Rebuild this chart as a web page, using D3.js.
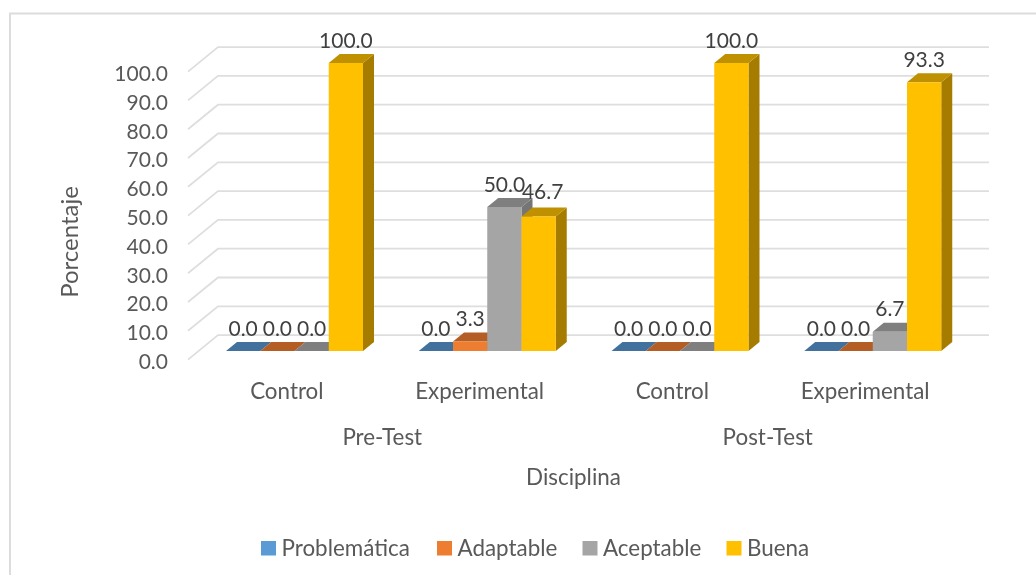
<!DOCTYPE html>
<html>
<head>
<meta charset="utf-8">
<script src="https://cdn.jsdelivr.net/npm/d3@7"></script>
<style>
	html, body { margin: 0; padding: 0; background: #fff; }
	svg { display: block; filter: blur(0.4px); }
	text { font-family: Lato, "Open Sans", sans-serif; }
</style>
</head>
<body>
<svg id="chart" width="1036" height="575"></svg>
<script>
const phases = ['Pre-Test', 'Post-Test']
const groups = ['Control', 'Experimental', 'Control', 'Experimental']
const seriesNames = ['Problemática', 'Adaptable', 'Aceptable', 'Buena']
const problematica = [0, 0, 0, 0]
const adaptable = [0, 3.3, 0, 0]
const aceptable = [0, 50, 0, 6.7]
const buena = [100, 46.7, 100, 93.3]
const seriesValues = [problematica, adaptable, aceptable, buena]
const yTicks = [0, 10, 20, 30, 40, 50, 60, 70, 80, 90, 100]

const frontColors = ['#5b9bd5', '#ed7d31', '#a5a5a5', '#ffc000']
const topColors = ['#41719c', '#b45d24', '#7f7f7f', '#bf9000']
const sideColors = ['#3b6a92', '#a65620', '#757575', '#a67c00']

const svg = d3.select('#chart')
const textColor = '#595959'
const fontSize = 22.4
const numberSize = 21

// chart frame, open on the right and at the bottom
svg.append('path')
	.attr('d', 'M 10 576 L 10 13.5 L 1037 13.5')
	.attr('fill', 'none')
	.attr('stroke', '#dcdcdc')
	.attr('stroke-width', 2)

// front plane of the 3d box
const x0 = d3.scaleBand().domain(d3.range(groups.length)).range([188, 959])
const y = d3.scaleLinear().domain([0, 100]).range([351, 63])
const xBar = d3.scaleBand().domain(d3.range(seriesNames.length)).range([0, 137])

const barStart = i => x0(i) + 38
const wall = { dx: 30, dy: -24.5 }
const floorOffset = 8.6 // front edge of floor sits below the bars
const depth = { dx: 11, dy: -9 }

// gridlines: diagonal on side wall + horizontal on back wall
const grid = svg.append('g')
yTicks.forEach(t => {
	const yFront = y(t) + floorOffset
	const yBack = yFront + wall.dy
	grid.append('path')
		.attr('d', `M 188 ${yFront} L 218 ${yBack} L 989 ${yBack}`)
		.attr('fill', 'none')
		.attr('stroke', '#dedede')
		.attr('stroke-width', 1.8)
})

// y tick labels
svg.append('g').selectAll('text')
	.data(yTicks)
	.join('text')
	.attr('x', 168)
	.attr('y', d => y(d) + 18)
	.attr('text-anchor', 'end')
	.attr('font-size', numberSize)
	.attr('fill', textColor)
	.text(d => d.toFixed(1))

// bars, left to right so that the right hand ones cover side faces
groups.forEach((g, i) => {
	const barG = svg.append('g')
	seriesValues.forEach((vals, s) => {
		const v = vals[i]
		const left = barStart(i) + xBar(s)
		const w = xBar.bandwidth()
		const top = y(v)
		const base = y(0)
		// side
		barG.append('path')
			.attr('d', `M ${left + w} ${top} L ${left + w + depth.dx} ${top + depth.dy} L ${left + w + depth.dx} ${base + depth.dy} L ${left + w} ${base} Z`)
			.attr('fill', sideColors[s])
		// top
		barG.append('path')
			.attr('d', `M ${left} ${top} L ${left + depth.dx} ${top + depth.dy} L ${left + w + depth.dx} ${top + depth.dy} L ${left + w} ${top} Z`)
			.attr('fill', topColors[s])
		// front
		barG.append('rect')
			.attr('x', left)
			.attr('y', top)
			.attr('width', w)
			.attr('height', base - top)
			.attr('fill', frontColors[s])
	})
	seriesValues.forEach((vals, s) => {
		const v = vals[i]
		// the 46.7 label was pushed aside in the original so it clears 50.0
		const nudged = i === 1 && s === 3
		svg.append('text')
			.attr('x', barStart(i) + xBar(s) + xBar.bandwidth() / 2 + (nudged ? 4 : 0))
			.attr('y', y(v) - (nudged ? 17.5 : 15.5))
			.attr('text-anchor', 'middle')
			.attr('font-size', numberSize)
			.attr('fill', '#404040')
			.text(v.toFixed(1))
	})
})

// category labels
svg.append('g').selectAll('text')
	.data(groups)
	.join('text')
	.attr('x', (d, i) => x0(i) + x0.bandwidth() / 2 + 2.5)
	.attr('y', 399)
	.attr('text-anchor', 'middle')
	.attr('font-size', fontSize)
	.attr('fill', textColor)
	.text(d => d)

svg.append('g').selectAll('text')
	.data(phases)
	.join('text')
	.attr('x', (d, i) => x0(i * 2) + x0.bandwidth() + 1.5)
	.attr('y', 445)
	.attr('text-anchor', 'middle')
	.attr('font-size', fontSize)
	.attr('fill', textColor)
	.text(d => d)

svg.append('text')
	.attr('x', 573.5)
	.attr('y', 485)
	.attr('text-anchor', 'middle')
	.attr('font-size', fontSize)
	.attr('fill', textColor)
	.text('Disciplina')

svg.append('text')
	.attr('transform', 'translate(78,242) rotate(-90)')
	.attr('text-anchor', 'middle')
	.attr('font-size', 24)
	.attr('fill', textColor)
	.text('Porcentaje')

// legend
const legendX = [261, 437, 582.5, 726.5]
const legend = svg.append('g').selectAll('g')
	.data(seriesNames)
	.join('g')
	.attr('transform', (d, i) => `translate(${legendX[i]},541)`)
legend.append('rect')
	.attr('width', 15)
	.attr('height', 14.5)
	.attr('fill', (d, i) => frontColors[i])
legend.append('text')
	.attr('x', 20.5)
	.attr('y', 14.7)
	.attr('font-size', fontSize)
	.attr('fill', textColor)
	.text(d => d)
</script>
</body>
</html>
